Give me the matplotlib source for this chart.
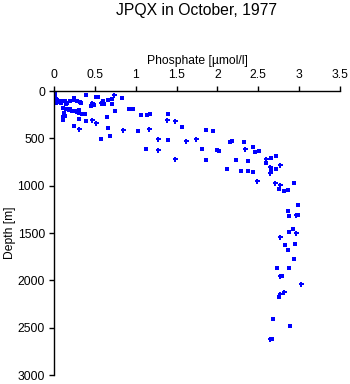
import matplotlib
matplotlib.use("Agg")
import matplotlib.pyplot as plt

plt.rcParams['font.family'] = ['Liberation Sans', 'DejaVu Sans']

title = "JPQX in October, 1977"
xlabel = "Phosphate [µmol/l]"
ylabel = "Depth [m]"
xticks = [0, 0.5, 1, 1.5, 2, 2.5, 3, 3.5]
xticklabels = ["0", "0.5", "1", "1.5", "2", "2.5", "3", "3.5"]
yticks = [0, 500, 1000, 1500, 2000, 2500, 3000]

# Series A: square markers (phosphate, depth)
sq_phos = [0.01, 0.01, 0.01, 0.01, 0.02, 0.02, 0.04, 0.05, 0.02, 0.06,
           0.08, 0.11, 0.13, 0.15, 0.16, 0.24, 0.24, 0.20, 0.28, 0.32,
           0.33, 0.39, 0.52, 0.54, 0.45, 0.49, 0.60, 0.61, 0.65, 0.11,
           0.15, 0.18, 0.20, 0.22, 0.26, 0.28, 0.30, 0.34, 0.38, 0.12,
           0.13, 0.11, 0.30, 0.39, 0.24, 0.66, 0.60, 0.66, 0.71, 0.60,
           0.71, 0.83, 0.75, 0.92, 0.97, 1.06, 1.14, 1.17, 1.40, 1.57,
           0.68, 0.57, 1.03, 1.40, 1.12, 1.81, 1.86, 1.86, 1.94, 2.00,
           2.02, 2.15, 2.18, 2.33, 2.44, 2.46, 2.51, 2.23, 2.37, 2.12,
           2.29, 2.37, 2.44, 2.59, 2.66, 2.72, 2.65, 2.72, 2.94, 2.75,
           2.81, 2.86, 2.98, 2.86, 2.87, 2.98, 2.92, 2.87, 2.83, 2.95,
           2.86, 2.94, 2.73, 2.87, 2.79, 2.75, 2.68, 2.89, 2.67, 0.31,
           0.11]
sq_depth = [0, 21, 42, 63, 85, 106, 95, 116, 127, 109,
            127, 102, 109, 137, 127, 74, 92, 109, 109, 116,
            127, 45, 67, 67, 162, 151, 109, 137, 278, 180,
            187, 198, 187, 208, 214, 222, 232, 243, 243, 232,
            267, 303, 198, 314, 373, 391, 102, 95, 88, 140,
            140, 69, 208, 193, 193, 250, 257, 243, 240, 380,
            478, 507, 426, 521, 616, 616, 732, 415, 426, 626,
            631, 542, 528, 539, 592, 648, 637, 726, 743, 827,
            842, 848, 859, 757, 708, 690, 834, 827, 975, 1038,
            1059, 1049, 1207, 1264, 1317, 1313, 1455, 1489, 1624, 1619,
            1680, 1775, 1873, 1873, 1957, 2173, 2408, 2479, 2616, 293,
            278]

# Series B: plus markers (phosphate, depth)
pl_phos = [0.47, 0.47, 0.52, 0.31, 0.58, 0.73, 1.38, 1.48, 0.84, 1.16,
           1.27, 1.61, 1.74, 1.27, 1.48, 2.34, 2.59, 2.64, 2.76, 2.64,
           2.48, 2.70, 2.76, 2.96, 2.96, 2.76, 2.77, 3.02, 2.81, 2.76,
           2.64]
pl_depth = [127, 303, 338, 405, 124, 45, 303, 320, 415, 405,
            502, 531, 502, 626, 721, 616, 721, 800, 785, 869,
            954, 975, 988, 1305, 1503, 1545, 1951, 2042, 2118, 2147,
            2623]

fig = plt.figure(figsize=(3.5, 3.84), dpi=100)
ax = fig.add_axes([54/350, 1-375/384, 286/350, 284/384])

ax.plot(sq_phos, sq_depth, linestyle='none', marker='s', markersize=2.7,
        color='#0000ff', markeredgewidth=0)
ax.plot(pl_phos, pl_depth, linestyle='none', marker='P', markersize=3.6,
        color='#0000ff', markeredgewidth=0)

ax.set_xlim(0, 3.5)
ax.set_ylim(3000, 0)
ax.set_xticks(xticks)
ax.set_xticklabels(xticklabels)
ax.set_yticks(yticks)
ax.xaxis.tick_top()
ax.xaxis.set_label_position('top')
for s in ['right', 'bottom']:
    ax.spines[s].set_visible(False)
for s in ['left', 'top']:
    ax.spines[s].set_linewidth(1.0)
ax.tick_params(axis='both', direction='out', length=3.5, width=1.0,
               labelsize=8.7, pad=3)
ax.tick_params(axis='x', pad=3.5)
ax.set_xlabel(xlabel, fontsize=8.7, labelpad=4)
ax.set_ylabel(ylabel, fontsize=8.7, labelpad=1)
fig.text(197/350, 1-10/384, title, ha='center', va='center', fontsize=11.3)

fig.savefig("out.png", dpi=100)
